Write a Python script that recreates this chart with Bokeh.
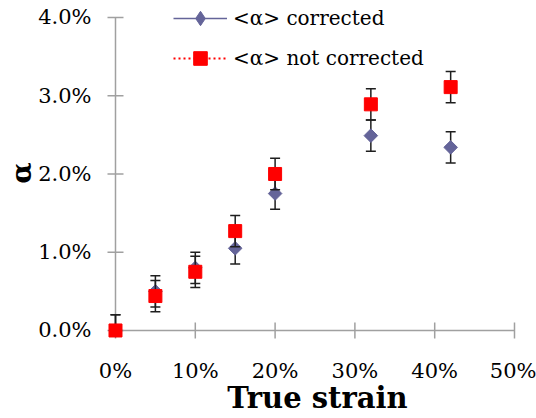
import numpy as np
from bokeh.plotting import figure
from bokeh.models import (Range1d, FixedTicker, NumeralTickFormatter, Legend,
                          LegendItem, ColumnDataSource)
from bokeh.embed import file_html
from bokeh.resources import INLINE

# ---- data ----
strain = [0.00, 0.05, 0.10, 0.15, 0.20, 0.32, 0.42]
alpha_corrected = [0.0000, 0.0050, 0.0080, 0.0105, 0.0175, 0.0249, 0.0234]
alpha_not_corrected = [0.0000, 0.0044, 0.0075, 0.0127, 0.0200, 0.0289, 0.0311]
err_upper = [0.002, 0.002, 0.002, 0.002, 0.002, 0.002, 0.002]
err_lower = [0.000, 0.002, 0.002, 0.002, 0.002, 0.002, 0.002]
x_ticks = [0.0, 0.1, 0.2, 0.3, 0.4, 0.5]
y_ticks = [0.00, 0.01, 0.02, 0.03, 0.04]
label_corr = "<α> corrected"
label_notcorr = "<α> not corrected"

BLUE = "#646499"
RED = "#ff0000"
ERR = "#1e1e1e"
AXIS = "#a0a0a0"
FONT = "DejaVu Serif"


def make_source(vals):
    v = np.array(vals)
    return ColumnDataSource(dict(
        x=strain, y=vals,
        lo=list(v - np.array(err_lower)),
        hi=list(v + np.array(err_upper)),
    ))


src_c = make_source(alpha_corrected)
src_n = make_source(alpha_not_corrected)

p = figure(width=536, height=418,
           x_range=Range1d(-0.0213, 0.52757), y_range=Range1d(-0.00192, 0.04217),
           output_backend="svg", toolbar_location=None, title=None,
           min_border_left=98, min_border_right=0,
           min_border_top=0, min_border_bottom=73)
p.outline_line_color = None
p.xgrid.visible = False
p.ygrid.visible = False
p.background_fill_color = "white"
p.border_fill_color = "white"

# ---- axes (labels only; lines and ticks drawn at zero below) ----
xa = p.xaxis[0]
ya = p.yaxis[0]
for ax in (xa, ya):
    ax.axis_line_color = None
    ax.major_tick_line_color = None
    ax.major_tick_in = 0
    ax.major_tick_out = 0
    ax.minor_tick_line_color = None
    ax.major_label_text_font = FONT
    ax.major_label_text_font_size = "21px"
    ax.major_label_text_color = "black"
    ax.axis_label_text_font = FONT
    ax.axis_label_text_font_style = "bold"
    ax.axis_label_text_color = "black"

xa.ticker = FixedTicker(ticks=x_ticks)
xa.formatter = NumeralTickFormatter(format="0%")
xa.major_label_standoff = 13
xa.axis_label = "True strain"
xa.axis_label_text_font_size = "29px"
xa.axis_label_standoff = -5

ya.ticker = FixedTicker(ticks=y_ticks)
ya.formatter = NumeralTickFormatter(format="0.0%")
ya.major_label_standoff = 7
ya.axis_label = "α"
ya.axis_label_text_font_size = "28px"
ya.axis_label_standoff = -3

# axis lines and crossing tick marks at zero
zeros_x = [0.0] * len(x_ticks)
zeros_y = [0.0] * len(y_ticks)
p.segment(x0=[x_ticks[0]], y0=[0.0], x1=[x_ticks[-1]], y1=[0.0],
          line_color=AXIS, line_width=1.5)
p.segment(x0=[0.0], y0=[y_ticks[0]], x1=[0.0], y1=[y_ticks[-1]],
          line_color=AXIS, line_width=1.5)
p.scatter(x=x_ticks, y=zeros_x, marker="dash", angle=np.pi / 2, size=16,
          line_color=AXIS, line_width=1.5)
p.scatter(x=zeros_y, y=y_ticks, marker="dash", size=16,
          line_color=AXIS, line_width=1.5)

# ---- series: corrected ----
p.segment(x0="x", y0="lo", x1="x", y1="hi", source=src_c,
          line_color=ERR, line_width=1.5)
p.scatter(x="x", y="hi", source=src_c, marker="dash", size=10,
          line_color=ERR, line_width=1.5)
p.scatter(x="x", y="lo", source=src_c, marker="dash", size=10,
          line_color=ERR, line_width=1.5)
p.scatter(x="x", y="y", source=src_c, marker="square", angle=np.pi / 4,
          size=9.6, fill_color=BLUE, line_color=BLUE)

# ---- series: not corrected ----
p.segment(x0="x", y0="lo", x1="x", y1="hi", source=src_n,
          line_color=ERR, line_width=1.5)
p.scatter(x="x", y="hi", source=src_n, marker="dash", size=10,
          line_color=ERR, line_width=1.5)
p.scatter(x="x", y="lo", source=src_n, marker="dash", size=10,
          line_color=ERR, line_width=1.5)
r_n = p.scatter(x="x", y="y", source=src_n, marker="square",
                size=13, fill_color=RED, line_color=RED)

# legend-only renderers (hidden in the plot area)
l_c = p.line(x="x", y="y", source=src_c, line_color=BLUE, line_width=1.5,
             visible=False)
m_c = p.scatter(x="x", y="y", source=src_c, marker="diamond",
                fill_color=BLUE, line_color=BLUE, visible=False)
l_n = p.line(x="x", y="y", source=src_n, line_color=RED, line_width=2,
             line_dash="2 3", visible=False)


def make_legend(items, gh, loc):
    lg = Legend(items=items, location=loc, glyph_width=54, glyph_height=gh,
                label_standoff=6, padding=0, margin=0, spacing=0,
                border_line_alpha=0, background_fill_alpha=0,
                inactive_fill_alpha=0,
                label_text_font=FONT, label_text_font_size="20px",
                label_text_color="black")
    p.add_layout(lg, "center")
    return lg


make_legend([LegendItem(label=label_corr, renderers=[l_c, m_c])], 36, (75, 309))
make_legend([LegendItem(label=label_notcorr, renderers=[l_n, r_n])], 34, (75, 270))

open("out.html", "w").write(file_html(p, INLINE))
